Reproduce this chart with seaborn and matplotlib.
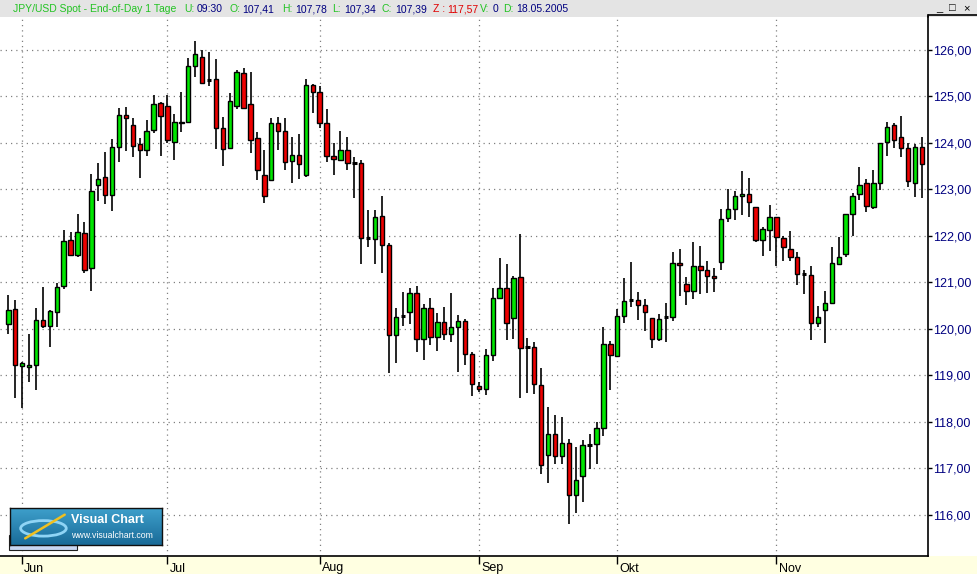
import numpy as np
import pandas as pd
import matplotlib
matplotlib.use('Agg')
import matplotlib.pyplot as plt
import matplotlib.transforms as mtransforms
from matplotlib.patches import Rectangle, Ellipse
from matplotlib.lines import Line2D
import seaborn as sns

# daily candles, JPY/USD, Jun - Nov
opens = [120.10, 120.42, 119.19, 119.17, 119.22, 120.19, 120.06, 120.36, 120.92, 121.91,
         121.58, 122.06, 121.31, 123.09, 123.25, 122.88, 123.91, 124.60, 124.37, 123.96,
         123.83, 124.26, 124.86, 124.78, 124.02, 124.41, 124.45, 125.64, 125.85, 125.35,
         125.36, 124.32, 123.89, 124.78, 125.50, 124.84, 124.09, 123.31, 123.20, 124.41,
         124.24, 123.61, 123.74, 123.31, 125.23, 125.08, 124.43, 123.72, 123.63, 123.85,
         123.57, 123.57, 121.95, 121.93, 122.43, 121.80, 119.86, 120.26, 120.36, 120.77,
         119.78, 120.44, 119.82, 120.14, 119.88, 120.03, 120.16, 119.45, 118.76, 118.70,
         119.43, 120.66, 120.87, 120.23, 121.11, 119.60, 119.60, 118.78, 117.28, 117.74,
         117.26, 117.53, 116.42, 116.83, 117.50, 117.52, 117.86, 119.67, 119.41, 120.27,
         120.61, 120.62, 120.51, 120.23, 119.78, 120.24, 120.25, 121.41, 120.96, 120.81,
         121.35, 121.26, 121.13, 121.43, 122.38, 122.58, 122.86, 122.90, 122.62, 121.91,
         122.12, 122.40, 121.95, 121.71, 121.54, 121.18, 121.16, 120.12, 120.40, 120.55,
         121.39, 121.61, 122.47, 122.90, 123.14, 122.62, 123.12, 124.02, 124.37, 124.11,
         123.89, 123.14, 123.91]
highs = [120.73, 120.62, 119.29, 119.89, 120.45, 120.90, 120.40, 120.97, 122.11, 122.08,
         122.46, 122.30, 123.32, 123.55, 123.79, 124.07, 124.74, 124.76, 124.52, 124.09,
         124.49, 125.03, 124.88, 125.02, 124.62, 125.08, 125.82, 126.18, 126.00, 125.94,
         125.79, 124.54, 125.06, 125.57, 125.60, 125.52, 124.22, 123.83, 124.52, 124.54,
         124.52, 124.13, 124.19, 125.36, 125.25, 125.21, 124.72, 123.98, 124.24, 124.13,
         123.70, 123.62, 122.56, 122.54, 122.85, 121.84, 120.44, 120.79, 120.87, 120.92,
         120.53, 120.66, 120.34, 120.46, 120.77, 120.29, 120.20, 119.49, 118.85, 119.56,
         120.87, 121.51, 121.39, 121.13, 122.04, 119.80, 119.71, 119.15, 118.32, 118.14,
         118.10, 117.62, 117.45, 117.60, 117.73, 117.99, 120.03, 119.73, 120.42, 121.09,
         121.43, 120.79, 120.64, 120.23, 120.31, 120.55, 121.65, 121.72, 121.11, 121.87,
         121.78, 121.46, 121.30, 122.58, 123.01, 122.96, 123.38, 123.24, 122.62, 122.19,
         122.66, 122.40, 122.00, 122.10, 121.65, 121.26, 121.35, 120.49, 120.81, 121.76,
         121.96, 122.47, 122.92, 123.48, 123.22, 123.40, 124.00, 124.45, 124.41, 124.57,
         123.98, 123.96, 124.13]
lows = [119.88, 118.50, 118.29, 118.85, 118.69, 120.01, 119.60, 120.03, 120.85, 121.56,
        121.54, 121.19, 120.80, 122.74, 122.68, 122.53, 123.58, 123.82, 123.69, 123.24,
        123.71, 124.21, 123.71, 123.98, 123.63, 124.23, 124.41, 125.42, 125.25, 125.22,
        123.87, 123.50, 123.89, 124.73, 124.72, 123.78, 123.19, 122.70, 123.20, 123.85,
        123.41, 123.12, 123.22, 123.25, 124.64, 124.32, 123.59, 123.31, 123.63, 123.41,
        122.81, 121.39, 121.75, 121.39, 121.20, 119.04, 119.26, 120.05, 120.10, 119.49,
        119.32, 119.64, 119.51, 119.75, 119.72, 119.06, 119.21, 118.55, 118.63, 118.58,
        119.31, 120.66, 119.75, 119.78, 118.50, 118.61, 118.59, 116.87, 116.67, 117.08,
        117.08, 115.79, 116.03, 116.28, 116.97, 117.08, 117.70, 118.69, 119.41, 120.11,
        120.46, 120.18, 119.94, 119.58, 119.73, 119.72, 120.16, 120.69, 120.51, 120.64,
        120.75, 120.77, 120.78, 121.26, 122.30, 122.34, 122.44, 122.40, 121.87, 121.56,
        121.66, 121.34, 121.45, 121.45, 120.93, 120.74, 119.75, 120.03, 119.69, 120.53,
        121.36, 121.54, 122.00, 122.77, 122.51, 122.58, 122.99, 123.72, 123.89, 123.70,
        123.05, 122.83, 122.81]
closes = [120.40, 119.22, 119.26, 119.22, 120.19, 120.06, 120.38, 120.90, 121.89, 121.58,
          122.08, 121.26, 122.95, 123.22, 122.88, 123.91, 124.60, 124.52, 123.93, 123.83,
          124.24, 124.84, 124.58, 124.06, 124.45, 124.45, 125.64, 125.90, 125.29, 125.35,
          124.32, 123.87, 124.90, 125.51, 124.75, 124.06, 123.40, 122.86, 124.41, 124.24,
          123.59, 123.74, 123.53, 125.23, 125.08, 124.43, 123.72, 123.65, 123.85, 123.57,
          123.57, 121.95, 121.95, 122.40, 121.80, 119.86, 120.25, 120.26, 120.77, 119.78,
          120.44, 119.82, 120.14, 119.88, 120.03, 120.16, 119.45, 118.81, 118.70, 119.43,
          120.66, 120.87, 120.12, 121.09, 119.58, 119.60, 118.81, 117.07, 117.74, 117.26,
          117.53, 116.42, 116.75, 117.49, 117.50, 117.86, 119.67, 119.43, 120.27, 120.59,
          120.61, 120.51, 120.36, 119.78, 120.21, 120.24, 121.41, 121.37, 120.81, 121.35,
          121.26, 121.13, 121.09, 122.36, 122.58, 122.86, 122.90, 122.73, 121.91, 122.15,
          122.40, 121.97, 121.76, 121.54, 121.18, 121.18, 120.12, 120.25, 120.55, 121.41,
          121.55, 122.47, 122.86, 123.09, 122.64, 123.12, 123.98, 124.34, 124.06, 123.89,
          123.18, 123.91, 123.53]

month_pos = [2, 23, 45, 68, 88, 111]
month_labels = ['Jun', 'Jul', 'Aug', 'Sep', 'Okt', 'Nov']
price_ticks = [116, 117, 118, 119, 120, 121, 122, 123, 124, 125, 126]

header = [('JPY/USD Spot - End-of-Day 1 Tage', 13, 'g'), ('U:', 184, 'g'), ('09:30', 197, 'n'),
          ('O:', 230, 'g'), ('107,41', 242, 'n'), ('H:', 282, 'g'), ('107,78', 295, 'n'),
          ('L:', 332, 'g'), ('107,34', 344, 'n'), ('C:', 382, 'g'), ('107,39', 395, 'n'),
          ('Z :', 433, 'r'), ('117,57', 447, 'r'), ('V:', 480, 'g'), ('0', 493, 'n'),
          ('D:', 503, 'g'), ('18.05.2005', 516, 'n')]

df = pd.DataFrame({'open': opens, 'high': highs, 'low': lows, 'close': closes})
df['idx'] = np.arange(len(df))

sns.set_style('white')
plt.rcParams['font.family'] = ['Liberation Sans', 'DejaVu Sans']

W, H = 978, 574
fig = plt.figure(figsize=(W / 100, H / 100), dpi=100)
fig.patch.set_facecolor('white')

def fx(px):
    return px / W

def fy(py):
    return 1 - py / H

# header strip and bottom date band
fig.patches.append(Rectangle((0, fy(17)), 1, 17 / H, transform=fig.transFigure,
                             facecolor='#e4e4e4', edgecolor='none', zorder=-2))
fig.patches.append(Rectangle((0, 0), 1, (H - 556) / H, transform=fig.transFigure,
                             facecolor='#ffffe1', edgecolor='none', zorder=-2))

ax = fig.add_axes([0, fy(556), fx(928), (556 - 17) / H])
ax.set_facecolor('white')

green = '#00e600'
red = '#ee0000'
bw = 0.64

ax.vlines(df['idx'], df['low'], df['high'], color='black', lw=1.2, zorder=2)
up = df[df['close'] > df['open']]
dn = df[df['close'] < df['open']]
dj = df[df['close'] == df['open']]
ax.bar(up['idx'], up['close'] - up['open'], bottom=up['open'], width=bw,
       color=green, edgecolor='black', linewidth=1.0, zorder=3)
ax.bar(dn['idx'], dn['open'] - dn['close'], bottom=dn['close'], width=bw,
       color=red, edgecolor='black', linewidth=1.0, zorder=3)
ax.hlines(dj['open'], dj['idx'] - bw / 2, dj['idx'] + bw / 2, color='black', lw=2.2, zorder=3)

ax.set_xlim(-1.2, 132.9)
ax.set_ylim(115.11, 126.70)

grid_kw = dict(color='#808080', lw=0.9, ls=(0, (1, 3.2)), zorder=1)
for p in price_ticks:
    ax.axhline(p, **grid_kw)
for m in month_pos:
    ax.axvline(m, **grid_kw)

ax.yaxis.tick_right()
ax.set_yticks(price_ticks)
ax.set_yticklabels([f'{p:.2f}'.replace('.', ',') for p in price_ticks],
                   color='#000080', fontsize=9)
ax.tick_params(axis='y', direction='out', length=3, width=1, pad=0.5, colors='black',
               labelcolor='#000080', right=True)
ax.set_xticks(month_pos)
ax.set_xticklabels([])
ax.tick_params(axis='x', direction='out', length=6, width=1, colors='black', bottom=True)
trans = mtransforms.blended_transform_factory(ax.transData, ax.transAxes)
for m, lab in zip(month_pos, month_labels):
    ax.text(m + 0.3, (556 - 571.5) / (556 - 17), lab, transform=trans, ha='left',
            va='baseline', fontsize=9, color='black', clip_on=False, zorder=10)

for s in ['left', 'top']:
    ax.spines[s].set_visible(False)
for s in ['right', 'bottom']:
    ax.spines[s].set_visible(True)
    ax.spines[s].set_color('black')
    ax.spines[s].set_linewidth(1.2)

# right panel frame
fig.lines.append(Line2D([fx(928), 1], [fy(15), fy(15)], transform=fig.transFigure,
                        color='black', lw=1.2))
fig.lines.append(Line2D([fx(928), fx(928)], [fy(15), fy(17)], transform=fig.transFigure,
                        color='black', lw=1.2))

# header texts
cols = {'g': '#22c322', 'n': '#000080', 'r': '#e00000'}
for txt, px, c in header:
    fig.text(fx(px), fy(9), txt, color=cols[c], fontsize=7.5, ha='left', va='center')
for txt, px in [('_', 936), ('\u25a1', 949), ('\u00d7', 963)]:
    fig.text(fx(px), fy(8), txt, color='black', fontsize=8, ha='left', va='center')

# logo
fig.patches.append(Rectangle((fx(9), fy(550)), 68 / W, 15 / H, transform=fig.transFigure,
                             facecolor='#c8d6f2', edgecolor='#202020', lw=0.8, zorder=5))
lax = fig.add_axes([fx(10), fy(545), 152 / W, 37 / H], zorder=6)
grad = np.linspace(0, 1, 50).reshape(-1, 1)
lax.imshow(grad, aspect='auto', extent=(0, 1, 0, 1),
           cmap=matplotlib.colors.LinearSegmentedColormap.from_list('vc', ['#3d9fcb', '#1a6b98']))
lax.add_patch(Ellipse((0.22, 0.45), 0.3, 0.42, facecolor='none', edgecolor='#8fd4f5', lw=2))
lax.plot([0.1, 0.36], [0.18, 0.82], color='#f0c020', lw=1.8)
lax.text(0.4, 0.68, 'Visual Chart', color='white', fontsize=9, fontweight='bold',
         ha='left', va='center')
lax.text(0.4, 0.27, 'www.visualchart.com', color='white', fontsize=6.3, ha='left', va='center')
lax.set_xlim(0, 1)
lax.set_ylim(0, 1)
lax.set_xticks([])
lax.set_yticks([])
for s in lax.spines.values():
    s.set_visible(True)
    s.set_color('#101010')
    s.set_linewidth(1)

fig.savefig('out.png', dpi=100)
